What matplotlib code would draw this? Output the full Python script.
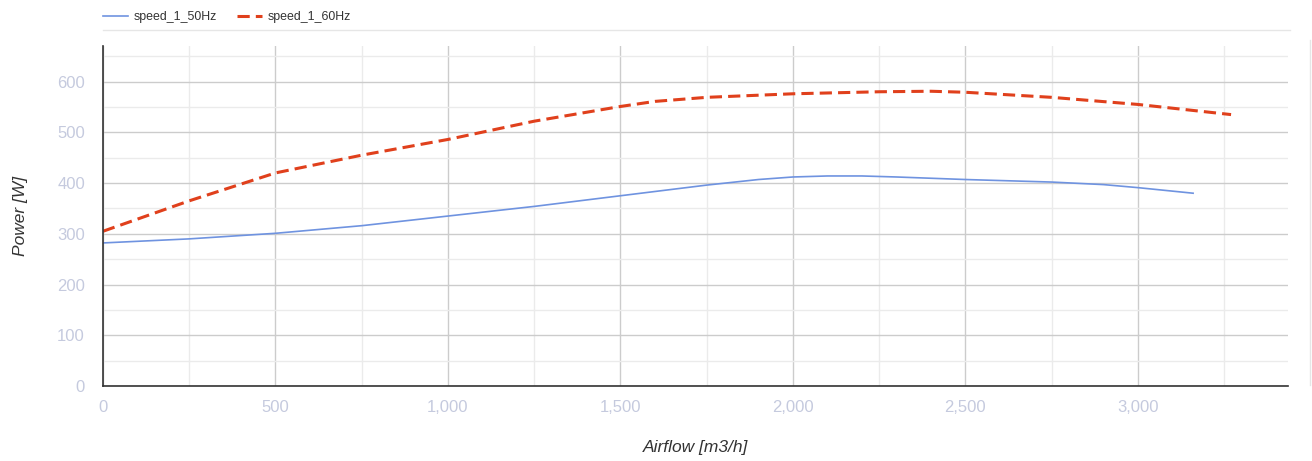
import matplotlib.pyplot as plt
from matplotlib.lines import Line2D
from matplotlib.ticker import MultipleLocator, FuncFormatter

plt.rcParams["font.family"] = ["Liberation Sans", "DejaVu Sans"]

# airflow [m3/h] and power [W]
airflow_50 = [0, 250, 500, 750, 1000, 1250, 1500, 1750, 1900, 2000, 2100, 2200, 2300,
              2500, 2750, 2900, 3000, 3160]
power_50 = [282, 290, 301, 316, 335, 354, 375, 396, 407, 412, 414, 414, 412,
            407, 402, 397, 391, 380]
airflow_60 = [0, 250, 500, 750, 1000, 1250, 1500, 1600, 1750, 2000, 2250, 2400, 2500,
              2750, 3000, 3270]
power_60 = [305, 365, 420, 455, 486, 522, 551, 561, 569, 576, 580, 581, 579,
            569, 555, 535]

tick_color = "#c5cade"

fig = plt.figure(figsize=(13.12, 4.61), dpi=100)
ax = fig.add_axes([0.0785, 0.1627, 0.9032, 0.7373])

ax.plot(airflow_50, power_50, color="#6f93e0", lw=1.2, label="speed_1_50Hz")
ax.plot(airflow_60, power_60, color="#e0401c", lw=2.2, ls=(0, (4, 2)), label="speed_1_60Hz")

ax.set_xlim(0, 3435)
ax.set_ylim(0, 670)
ax.xaxis.set_major_locator(MultipleLocator(500))
ax.xaxis.set_minor_locator(MultipleLocator(250))
ax.yaxis.set_major_locator(MultipleLocator(100))
ax.yaxis.set_minor_locator(MultipleLocator(50))
ax.xaxis.set_major_formatter(FuncFormatter(lambda v, p: f"{int(v):,}"))
ax.grid(True, which="major", color="#cccccc", lw=1)
ax.grid(True, which="minor", color="#ebebeb", lw=1)
ax.set_axisbelow(True)
ax.tick_params(which="both", length=0, colors=tick_color, labelsize=12)
ax.tick_params(axis="y", pad=13)
ax.tick_params(axis="x", pad=10)

for side in ["top", "right"]:
    ax.spines[side].set_visible(False)
for side in ["left", "bottom"]:
    ax.spines[side].set_color("#333333")
    ax.spines[side].set_linewidth(1.2)

ax.set_xlabel("Airflow [m3/h]", style="italic", color="#333333", fontsize=12.5)
ax.set_ylabel("Power [W]", style="italic", color="#333333", fontsize=12.5)
ax.xaxis.set_label_coords(0.5, -0.159)
ax.yaxis.set_label_coords(-0.0636, 0.5)

ax.legend(loc="lower left", bbox_to_anchor=(-0.0042, 1.053), ncol=2, frameon=False,
          fontsize=8.9, handlelength=2.0, handletextpad=0.5, columnspacing=1.6,
          borderaxespad=0, labelcolor="#333333")

# separator lines around the plot area
fig.add_artist(Line2D([103 / 1312, 1290 / 1312], [1 - 30 / 461, 1 - 30 / 461], color="#e6e6e6", lw=1))
fig.add_artist(Line2D([1310 / 1312, 1310 / 1312], [1 - 40 / 461, 1 - 385 / 461], color="#e6e6e6", lw=1))

fig.savefig("out.png", dpi=100)
